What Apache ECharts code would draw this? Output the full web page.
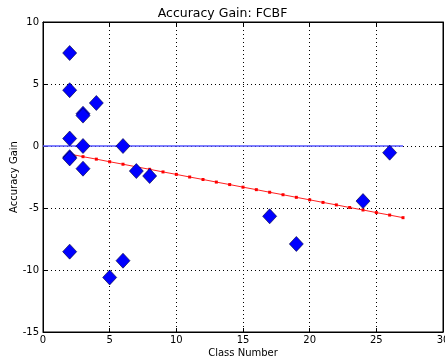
<!DOCTYPE html>
<html>
<head>
<meta charset="utf-8">
<script src="https://cdn.jsdelivr.net/npm/echarts@6/dist/echarts.min.js"></script>
<style>html,body{margin:0;padding:0;background:#fff}#c{width:445px;height:360px}</style>
</head>
<body>
<div id="c"></div>
<script>
var classNums = [2, 2, 4, 3, 3, 2, 3, 6, 2, 2, 3, 7, 8, 2, 6, 5, 17, 19, 24, 26];
var gains = [7.5, 4.5, 3.47, 2.6, 2.45, 0.6, 0, 0, -0.9, -1.0, -1.83, -2.02, -2.42, -8.52, -9.25, -10.6, -5.67, -7.9, -4.44, -0.54];
var baseX = [0, 27];
var baseY = [0, 0];
var trendX = [2,3,4,5,6,7,8,9,10,11,12,13,14,15,16,17,18,19,20,21,22,23,24,25,26,27];
var trendY = [-0.65,-0.86,-1.06,-1.27,-1.47,-1.68,-1.88,-2.09,-2.29,-2.50,-2.70,-2.91,-3.11,-3.32,-3.52,-3.73,-3.93,-4.14,-4.34,-4.55,-4.75,-4.96,-5.16,-5.37,-5.57,-5.78];
var xTicks = [0, 5, 10, 15, 20, 25, 30];
var yTicks = [-15, -10, -5, 0, 5, 10];

function zip(a, b) { return a.map(function (v, i) { return [v, b[i]]; }); }
var font = 'DejaVu Sans';
var chart = echarts.init(document.getElementById('c'), null, {renderer: 'canvas'});
var tick = {show: true, inside: true, length: 4, lineStyle: {color: '#000'}};
var line = {show: true, onZero: false, lineStyle: {color: '#000'}};
chart.setOption({
  animation: false,
  backgroundColor: '#fff',
  title: {text: 'Accuracy Gain: FCBF', left: 'center', top: 2,
    textStyle: {fontFamily: font, fontSize: 12.5, fontWeight: 'normal', color: '#000'}},
  grid: {left: 43, right: 2, top: 22, bottom: 28, containLabel: false, outerBoundsMode: 'none',
    show: true, borderColor: '#000', borderWidth: 1},
  xAxis: [{
    type: 'value', min: xTicks[0], max: xTicks[xTicks.length - 1], interval: 5,
    name: 'Class Number', nameLocation: 'middle', nameGap: 16, nameMoveOverlap: false,
    nameTextStyle: {fontFamily: font, fontSize: 10, color: '#000'},
    axisLine: line, axisTick: tick,
    axisLabel: {fontFamily: font, fontSize: 10, color: '#000', margin: 3},
    splitLine: {show: true, lineStyle: {color: '#000', type: [1, 3], width: 1}}
  }, {
    type: 'value', position: 'top', min: 0, max: 30, interval: 5,
    axisLine: line, axisTick: tick,
    axisLabel: {show: false}, splitLine: {show: false}
  }],
  yAxis: [{
    type: 'value', min: yTicks[0], max: yTicks[yTicks.length - 1], interval: 5,
    name: 'Accuracy Gain', nameLocation: 'middle', nameGap: 24, nameMoveOverlap: false,
    nameTextStyle: {fontFamily: font, fontSize: 10, color: '#000'},
    axisLine: line, axisTick: tick,
    axisLabel: {fontFamily: font, fontSize: 10, color: '#000', margin: 4},
    splitLine: {show: true, lineStyle: {color: '#000', type: [1, 3], width: 1}}
  }, {
    type: 'value', position: 'right', min: -15, max: 10, interval: 5,
    axisLine: line, axisTick: tick,
    axisLabel: {show: false}, splitLine: {show: false}
  }],
  series: [{
    type: 'line', data: zip(baseX, baseY), symbol: 'none',
    lineStyle: {color: '#5555ff', width: 1.5}, z: 2
  }, {
    type: 'line', data: zip(trendX, trendY), symbol: 'rect', symbolSize: 3,
    itemStyle: {color: '#ff0000'}, lineStyle: {color: '#ff2020', width: 1}, z: 3
  }, {
    type: 'scatter', data: zip(classNums, gains), symbol: 'diamond', symbolSize: [14, 15],
    itemStyle: {color: '#0000ff', borderColor: '#000033', borderWidth: 0.6, opacity: 1}, z: 4
  }]
});
</script>
</body>
</html>
